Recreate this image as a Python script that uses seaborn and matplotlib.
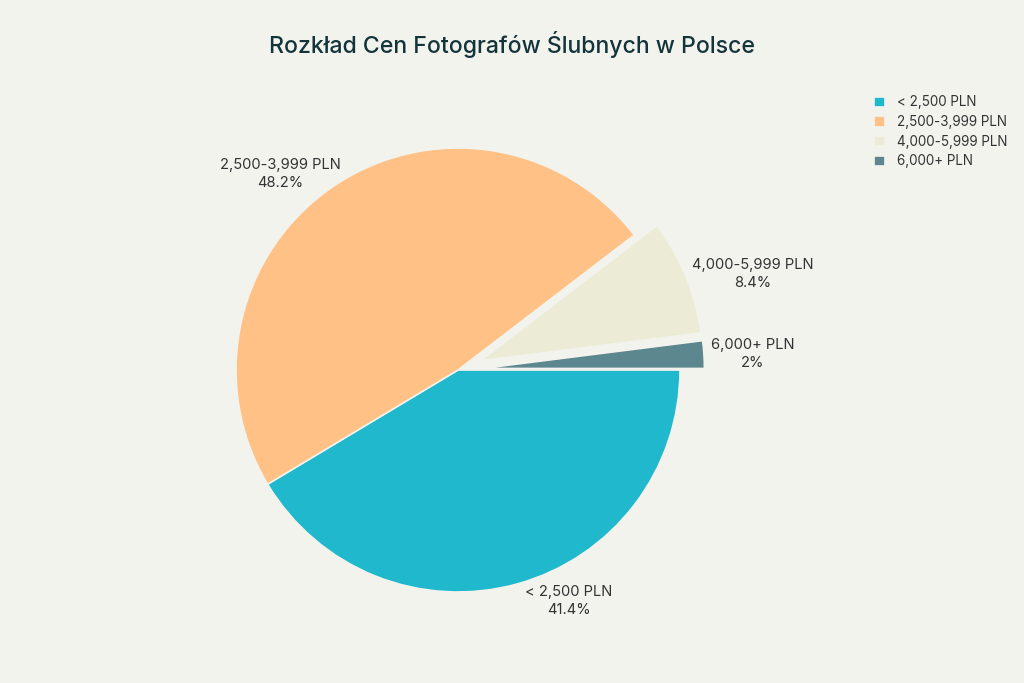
import numpy as np
import matplotlib
matplotlib.use("Agg")
import matplotlib.pyplot as plt
import seaborn as sns

# data
categories = ["< 2,500 PLN", "2,500-3,999 PLN", "4,000-5,999 PLN", "6,000+ PLN"]
shares = [41.4, 48.2, 8.4, 2.0]
share_labels = ["41.4%", "48.2%", "8.4%", "2%"]
pulled_out = [0, 0, 1, 1]

bg = "#F3F3EE"
palette = sns.color_palette(["#1FB8CD", "#FFC185", "#ECEBD5", "#5D878F"])

sns.set_theme(style="white")
plt.rcParams["font.family"] = ["Inter", "DejaVu Sans"]

fig = plt.figure(figsize=(10.24, 6.83), dpi=100, facecolor=bg)
ax = fig.add_axes([0, 0, 1, 1])
ax.set_facecolor(bg)

pull = 0.11
explode = [pull * p for p in pulled_out]
wedges, _ = ax.pie(shares, colors=palette, startangle=0, counterclock=False,
                   explode=explode, radius=1.0,
                   wedgeprops=dict(edgecolor=bg, linewidth=1.2))

# outside labels: box corner/edge touches a point just outside each slice
total = sum(shares)
start = 0.0
for cat, lab, s, e in zip(categories, share_labels, shares, explode):
    mid = np.deg2rad(-(start + s / 2) / total * 360)
    start += s
    c, sn = np.cos(mid), np.sin(mid)
    if abs(sn) < 0.5:
        va, r, dx, dy = "center", 1.03, 0.0, 0.0
    else:
        va, r, dx, dy = ("bottom" if sn > 0 else "top"), 1.0, 0.035, -0.015 if sn > 0 else -0.005
    ha = "left" if c > 0 else "right"
    x = (r + e) * c + dx
    y = (r + e) * sn + dy
    ax.text(x, y, f"{cat}\n{lab}", ha=ha, va=va,
            multialignment="center", fontsize=10.6, color="#333333",
            linespacing=1.35)

ax.set_aspect("equal")
ax.set_xlim(-458 / 222, (1024 - 458) / 222)
ax.set_ylim(-(683 - 370) / 222, 370 / 222)
ax.axis("off")

leg = ax.legend(wedges, categories, loc="upper left",
                bbox_to_anchor=(869 / 1024, 1 - 90 / 683), frameon=False,
                fontsize=9.7, handlelength=0.8, handleheight=0.8,
                handletextpad=0.9, labelspacing=0.42, borderaxespad=0)
for t in leg.get_texts():
    t.set_color("#333333")

fig.text(0.5, 1 - 44 / 683, "Rozkład Cen Fotografów Ślubnych w Polsce",
         ha="center", va="center", fontsize=16.6, fontweight="medium",
         color="#13343B")

fig.savefig("out.png", dpi=100, facecolor=bg)
